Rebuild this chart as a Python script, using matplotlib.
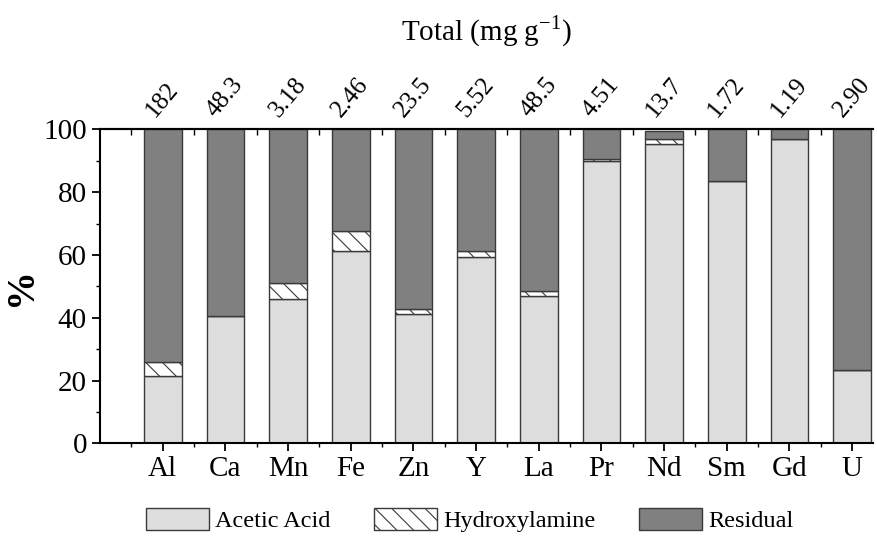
import numpy as np
import matplotlib
matplotlib.use("Agg")
import matplotlib.pyplot as plt
from matplotlib.ticker import MultipleLocator

plt.rcParams['font.family'] = ['Liberation Serif', 'DejaVu Serif']
plt.rcParams['mathtext.fontset'] = 'custom'
plt.rcParams['mathtext.rm'] = 'Liberation Serif'
plt.rcParams['hatch.color'] = '#333333'
plt.rcParams['hatch.linewidth'] = 0.8

elements = ['Al', 'Ca', 'Mn', 'Fe', 'Zn', 'Y', 'La', 'Pr', 'Nd', 'Sm', 'Gd', 'U']
totals = ['182', '48.3', '3.18', '2.46', '23.5', '5.52', '48.5', '4.51', '13.7', '1.72', '1.19', '2.90']

# fraction (%) recovered in each extraction step
acetic = [21.5, 40.5, 46.0, 61.2, 41.2, 59.4, 46.9, 89.9, 95.2, 83.6, 96.9, 23.3]
hydroxylamine = [4.5, 0.0, 5.0, 6.5, 1.5, 1.9, 1.6, 0.7, 1.7, 0.0, 0.0, 0.0]
residual = [74.0, 59.5, 49.0, 32.3, 57.3, 38.7, 51.5, 9.4, 2.5, 16.4, 3.1, 76.7]

x = np.arange(len(elements))
acetic = np.array(acetic)
hydroxylamine = np.array(hydroxylamine)
residual = np.array(residual)

fig = plt.figure(figsize=(8.78, 5.36), dpi=100)
ax = fig.add_axes([0.114, 0.1726, 0.880, 0.5862])

w = 0.6
ec = '#3a3a3a'
ax.bar(x, acetic, w, color='#dddddd', edgecolor=ec, linewidth=1.0, label='Acetic Acid')
ax.bar(x, hydroxylamine, w, bottom=acetic, color='white', edgecolor=ec,
       linewidth=1.0, hatch='\\\\', label='Hydroxylamine')
ax.bar(x, residual, w, bottom=acetic + hydroxylamine, color='#808080',
       edgecolor=ec, linewidth=1.0, label='Residual')

ax.set_xlim(-1, 11.33)
ax.set_ylim(0, 100)
ax.set_xticks(x)
ax.set_xticklabels(elements, fontsize=21)
ax.xaxis.set_minor_locator(MultipleLocator(1.0, offset=0.5))
ax.yaxis.set_major_locator(MultipleLocator(20))
ax.yaxis.set_minor_locator(MultipleLocator(10))
ax.tick_params(axis='y', which='major', labelsize=21, length=6, width=1.3, direction='out')
ax.tick_params(axis='y', which='minor', length=3, width=1.0, direction='out')
ax.tick_params(axis='x', which='major', length=6, width=1.3, direction='out', pad=3)
ax.tick_params(axis='x', which='minor', length=3, width=1.0, direction='out')
for side in ['left', 'bottom', 'top']:
    ax.spines[side].set_linewidth(1.5)
ax.spines['right'].set_visible(False)
ax.set_ylabel('%', fontsize=28, fontweight='bold', labelpad=2)

# top axis: inward minor ticks and element totals
top = ax.secondary_xaxis('top')
top.set_xticks(x)
top.set_xticklabels(totals, rotation=50, fontsize=18, ha='center', va='bottom')
top.xaxis.set_minor_locator(MultipleLocator(1.0, offset=0.5))
top.tick_params(axis='x', which='major', length=0, pad=6)
top.tick_params(axis='x', which='minor', length=4, width=1.0, direction='in')
top.spines['top'].set_linewidth(1.5)
top.set_xlabel('Total (mg g$^{\\mathrm{-1}}$)', fontsize=21, labelpad=24)

ax.legend(loc='center', bbox_to_anchor=(0.535, 0.03), bbox_transform=fig.transFigure,
          ncol=3, frameon=False, fontsize=17.5, handlelength=2.6, handleheight=1.0,
          columnspacing=1.8, handletextpad=0.25)

fig.savefig('out.png', dpi=100)
